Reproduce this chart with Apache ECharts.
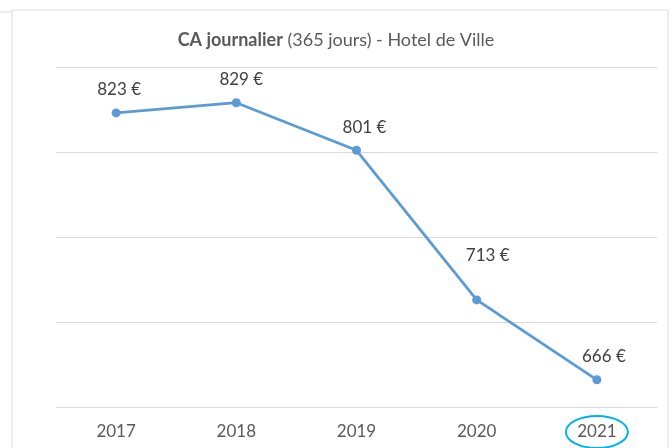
<!DOCTYPE html>
<html>
<head>
<meta charset="utf-8">
<script src="https://cdn.jsdelivr.net/npm/echarts@6/dist/echarts.min.js"></script>
<style>
  html, body { margin: 0; padding: 0; background: #fff; }
  #main { width: 672px; height: 448px; }
</style>
</head>
<body>
<div id="main"></div>
<script>
var years = ['2017', '2018', '2019', '2020', '2021'];
var caJour = [823, 829, 801, 713, 666];
// décalage des étiquettes (comme dans Excel)
var labelShift = [[3, -5], [5, -5], [8, -5], [11, -26], [7, -5]];

var myChart = echarts.init(document.getElementById('main'));

var datas = [];
for (var i = 0; i < caJour.length; i++) {
    datas.push({
        value: caJour[i],
        label: { offset: labelShift[i] }
    });
}

var option = {
    animation: false,
    textStyle: { fontFamily: 'Lato' },
    title: {
        text: '{b|CA journalier} {n|(365 jours) - Hotel de Ville}',
        left: 'center',
        top: 26,
        textStyle: {
            fontWeight: 'normal',
            rich: {
                b: { fontFamily: 'Lato', fontSize: 18, fontWeight: 'bold', color: '#595959' },
                n: { fontFamily: 'Lato', fontSize: 18, fontWeight: 'normal', color: '#595959' }
            }
        }
    },
    grid: { left: 56, right: 15, top: 67, bottom: 41 },
    xAxis: {
        type: 'category',
        data: years,
        boundaryGap: true,
        axisLine: { show: false },
        axisTick: { show: false },
        axisLabel: { fontFamily: 'Lato', color: '#595959', fontSize: 17, margin: 16 }
    },
    yAxis: {
        type: 'value',
        min: 650,
        max: 850,
        interval: 50,
        axisLabel: { show: false },
        axisLine: { show: false },
        axisTick: { show: false },
        splitLine: { lineStyle: { color: '#d9d9d9', width: 1 } }
    },
    series: [{
        type: 'line',
        data: datas,
        symbol: 'circle',
        symbolSize: 9,
        lineStyle: { color: '#5b9bd5', width: 2.75 },
        itemStyle: { color: '#5b9bd5' },
        label: {
            show: true,
            position: 'top',
            fontFamily: 'Lato',
            color: '#404040',
            fontSize: 17,
            formatter: function (p) { return p.value + ' €'; }
        }
    }]
};
myChart.setOption(option);

// cadre du graphique + ellipse autour de 2021
var pt = myChart.convertToPixel({ gridIndex: 0 }, ['2021', 650]);
myChart.setOption({
    graphic: [{
        type: 'rect',
        shape: { x: 12, y: 10, width: 656, height: 460 },
        style: { fill: 'none', stroke: '#d9d9d9', lineWidth: 1 },
        silent: true
    }, {
        type: 'line',
        shape: { x1: 0, y1: 12, x2: 12, y2: 12 },
        style: { stroke: '#d9d9d9', lineWidth: 1 },
        silent: true
    }, {
        type: 'ellipse',
        shape: { cx: pt[0], cy: pt[1] + 25, rx: 31, ry: 16 },
        style: { fill: 'none', stroke: '#00b0f0', lineWidth: 2 },
        silent: true
    }]
});
</script>
</body>
</html>
